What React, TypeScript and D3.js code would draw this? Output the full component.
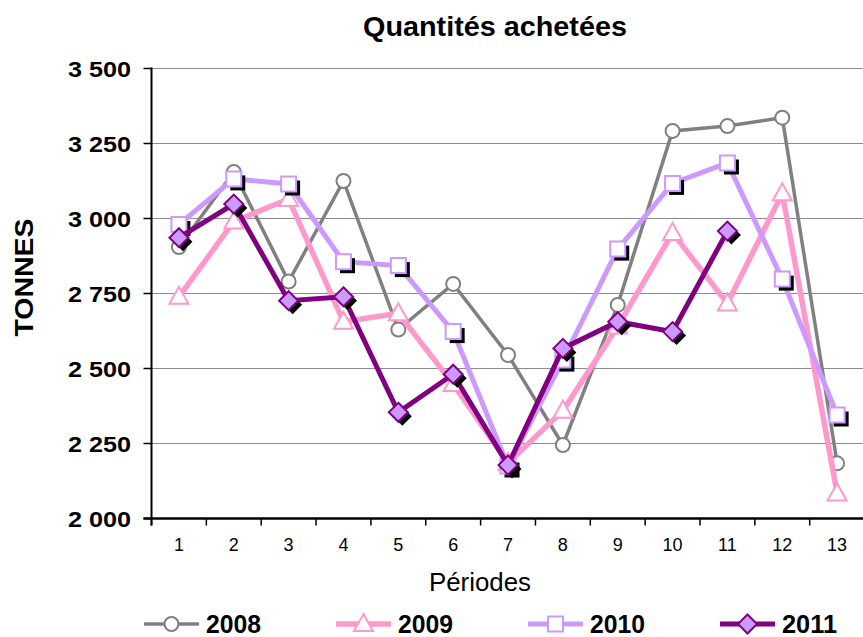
import React from "react";
import * as d3 from "d3";

const periods = ["1", "2", "3", "4", "5", "6", "7", "8", "9", "10", "11", "12", "13"];
const s2008 = [2905, 3155, 2790, 3125, 2630, 2782, 2545, 2245, 2712, 3292, 3308, 3336, 2184];
const s2009 = [2739, 2990, 3065, 2656, 2684, 2448, 2185, 2359, 2640, 2952, 2717, 3084, 2083];
const s2010 = [2980, 3132, 3115, 2856, 2843, 2623, 2175, 2528, 2898, 3117, 3185, 2798, 2345];
const s2011 = [2936, 3048, 2726, 2739, 2354, 2481, 2178, 2567, 2656, 2623, 2958];
const yTicks = [2000, 2250, 2500, 2750, 3000, 3250, 3500];
const seriesNames = ["2008", "2009", "2010", "2011"];

const FONT = "'Liberation Sans', Arial, Helvetica, sans-serif";
const W = 863;
const H = 637;
const left = 151.5;
const top = 68.5;
const bottom = 518.5;
const band = 54.85;

const fr = d3.formatLocale({ decimal: ",", thousands: " ", grouping: [3], currency: ["", ""] });
const fmt = fr.format(",.0f");

type Kind = "circle" | "triangle" | "square" | "diamond";
const styles: { color: string; width: number; kind: Kind; fill: string; stroke: string; shadow: boolean }[] = [
  { color: "#808080", width: 3.5, kind: "circle", fill: "#ffffff", stroke: "#808080", shadow: false },
  { color: "#FF99CC", width: 5.5, kind: "triangle", fill: "#ffffff", stroke: "#FF99CC", shadow: false },
  { color: "#CC99FF", width: 5, kind: "square", fill: "#ffffff", stroke: "#CC99FF", shadow: true },
  { color: "#800080", width: 5, kind: "diamond", fill: "#CC99FF", stroke: "#800080", shadow: true },
];

function markerPath(kind: Kind): string {
  switch (kind) {
    case "circle":
      return "M-7,0A7,7 0 1,0 7,0A7,7 0 1,0 -7,0Z";
    case "triangle":
      return "M0,-10L9.5,7L-9.5,7Z";
    case "square":
      return "M-7.5,-7.5H7.5V7.5H-7.5Z";
    case "diamond":
      return "M0,-9.5L9.5,0L0,9.5L-9.5,0Z";
  }
}

export default function App() {
  const x = d3.scaleBand<string>().domain(periods).range([left, left + band * periods.length]);
  const y = d3.scaleLinear().domain([2000, 3500]).range([bottom, top]);
  const data = [s2008, s2009, s2010, s2011];
  const line = d3
    .line<number>()
    .x((_, i) => (x(periods[i]) as number) + x.bandwidth() / 2)
    .y((d) => y(d));

  const legendX = [144, 336, 528, 720];

  return (
    <svg width={W} height={H} style={{ position: "absolute", left: 0, top: 0, background: "#fff" }} fontFamily={FONT}>
      <rect x={0} y={0} width={W} height={H} fill="#fff" />
      {/* title */}
      <text x={495} y={36} textAnchor="middle" fontWeight="bold" fontSize={28} textLength={264} lengthAdjust="spacingAndGlyphs">
        Quantités achetées
      </text>
      {/* gridlines */}
      {yTicks.slice(1).map((t) => (
        <line key={t} x1={left} x2={W} y1={y(t)} y2={y(t)} stroke="#8c8c8c" strokeWidth={1.2} />
      ))}
      {/* y ticks */}
      {yTicks.map((t) => (
        <g key={"yt" + t}>
          <line x1={left - 8} x2={left} y1={y(t)} y2={y(t)} stroke="#000" strokeWidth={1.5} />
          <text x={131} y={y(t) + 8.5} textAnchor="end" fontWeight="bold" fontSize={22.5} textLength={63} lengthAdjust="spacingAndGlyphs">
            {fmt(t)}
          </text>
        </g>
      ))}
      {/* x ticks */}
      {periods.map((p, i) => (
        <g key={"xt" + p}>
          <line x1={(x(p) as number)} x2={(x(p) as number)} y1={bottom} y2={bottom + 7} stroke="#000" strokeWidth={1.5} />
          <text x={(x(p) as number) + x.bandwidth() / 2} y={551} textAnchor="middle" fontSize={18}>
            {p}
          </text>
        </g>
      ))}
      {/* axes */}
      <line x1={left} x2={left} y1={top - 1} y2={bottom + 7} stroke="#000" strokeWidth={2} />
      <line x1={left - 8} x2={W} y1={bottom} y2={bottom} stroke="#000" strokeWidth={2.5} />
      {/* axis titles */}
      <text transform="translate(33,277.5) rotate(-90)" textAnchor="middle" fontWeight="bold" fontSize={26.5} textLength={118} lengthAdjust="spacingAndGlyphs">
        TONNES
      </text>
      <text x={480} y={591} textAnchor="middle" fontSize={25} textLength={102} lengthAdjust="spacingAndGlyphs">
        Périodes
      </text>
      {/* series */}
      {data.map((vals, si) => {
        const st = styles[si];
        return (
          <g key={"s" + si}>
            <path d={line(vals) || ""} fill="none" stroke={st.color} strokeWidth={st.width} strokeLinejoin="miter" />
            {vals.map((v, i) => {
              const cx = (x(periods[i]) as number) + x.bandwidth() / 2;
              const cy = y(v);
              return (
                <g key={i}>
                  {st.shadow && <path d={markerPath(st.kind)} transform={`translate(${cx + 4},${cy + 4})`} fill="#000" />}
                  <path d={markerPath(st.kind)} transform={`translate(${cx},${cy})`} fill={st.fill} stroke={st.stroke} strokeWidth={2} />
                </g>
              );
            })}
          </g>
        );
      })}
      {/* legend */}
      {seriesNames.map((n, i) => {
        const st = styles[i];
        const lx = legendX[i];
        const ly = 624;
        return (
          <g key={"lg" + n}>
            <line x1={lx} x2={lx + 55} y1={ly} y2={ly} stroke={st.color} strokeWidth={st.width} />
            <path d={markerPath(st.kind)} transform={`translate(${lx + 27.5},${ly})`} fill={st.fill} stroke={st.stroke} strokeWidth={2} />
            <text x={lx + 62} y={633} fontWeight="bold" fontSize={25} textLength={55} lengthAdjust="spacingAndGlyphs">
              {n}
            </text>
          </g>
        );
      })}
    </svg>
  );
}
